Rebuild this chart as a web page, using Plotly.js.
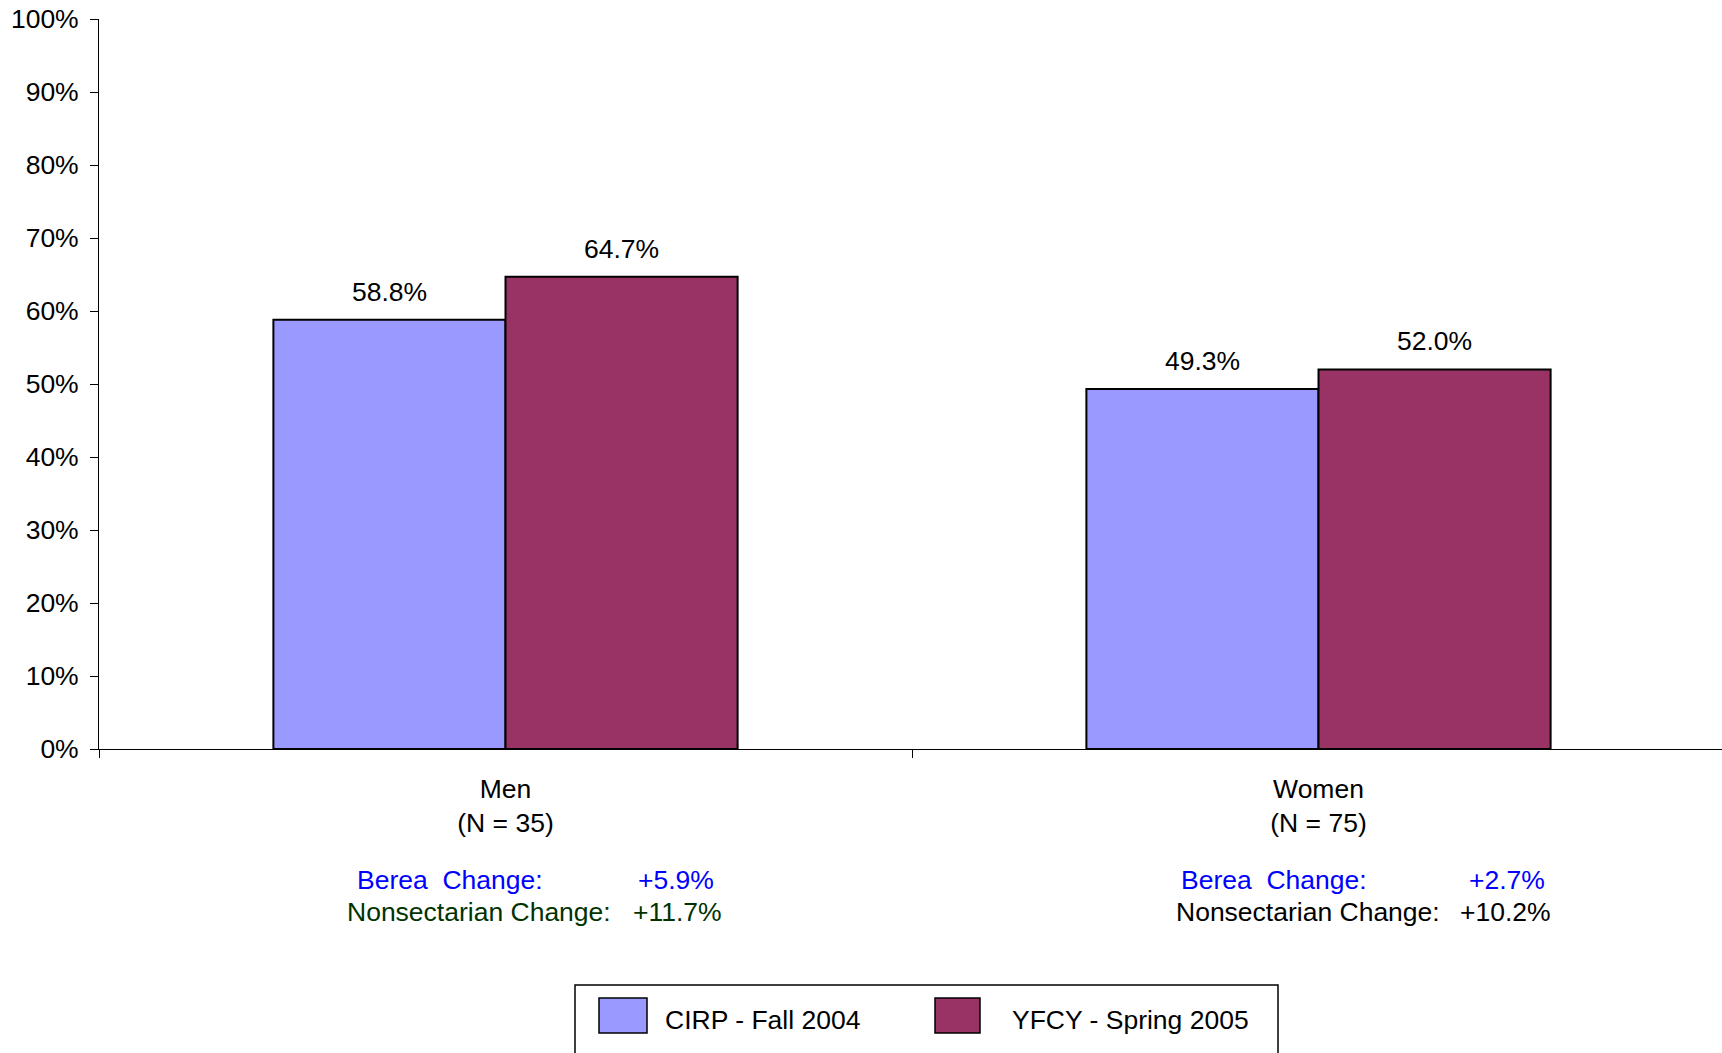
<!DOCTYPE html>
<html>
<head>
<meta charset="utf-8">
<script src="https://cdn.plot.ly/plotly-3.0.1.min.js"></script>
<style>html,body{margin:0;padding:0;background:#fff;}#chart{width:1722px;height:1053px;}</style>
</head>
<body>
<div id="chart"></div>
<script>
// ---- data ----
const categories = ['Men', 'Women'];
const sampleSizes = ['(N = 35)', '(N = 75)'];
const seriesNames = ['CIRP - Fall 2004', 'YFCY - Spring 2005'];
const cirpValues = [58.8, 49.3];
const yfcyValues = [64.7, 52.0];
const bereaChange = [5.9, 2.7];
const nonsectarianChange = [11.7, 10.2];

// ---- styling ----
const colors = ['#9999FF', '#993366'];
const FONT = '"Liberation Sans", Arial, Helvetica, sans-serif';
const FS = 26.5;

// pixel helpers for paper coords (plot area: x 99..1725, y 19..749)
const px = x => (x - 99) / 1623;
const py = y => (749 - y) / 730;

const catLabels = categories.map((c, i) => c + '<br>' + sampleSizes[i]);

const traces = [cirpValues, yfcyValues].map((vals, t) => ({
  type: 'bar',
  name: seriesNames[t],
  x: catLabels,
  y: vals,
  marker: { color: colors[t], line: { color: '#000000', width: 2 } },
  hoverinfo: 'skip',
  showlegend: false
}));

const annotations = [];
const barOffset = 0.1427;
[cirpValues, yfcyValues].forEach((vals, t) => {
  vals.forEach((v, i) => {
    annotations.push({
      xref: 'x', yref: 'y',
      x: i + (t === 0 ? -barOffset : barOffset),
      y: v, yanchor: 'middle', yshift: 28,
      text: v.toFixed(1) + '%',
      showarrow: false,
      font: { family: FONT, size: FS, color: '#000000' }
    });
  });
});

// change annotations
const changePos = [
  { labelX: 355, valueX: 716, nsLabelX: 345, nsValueX: 724, nsColor: '#003300' },
  { labelX: 1179, valueX: 1547, nsLabelX: 1174, nsValueX: 1553, nsColor: '#000000' }
];
const fmt = v => '+' + v.toFixed(1) + '%';
categories.forEach((c, i) => {
  const p = changePos[i];
  annotations.push({ xref: 'paper', yref: 'paper', x: px(p.labelX), y: py(880), xanchor: 'left', yanchor: 'middle',
    text: 'Berea&nbsp;&nbsp;Change:', showarrow: false, font: { family: FONT, size: FS, color: '#0000FF' } });
  annotations.push({ xref: 'paper', yref: 'paper', x: px(p.valueX), y: py(880), xanchor: 'right', yanchor: 'middle',
    text: fmt(bereaChange[i]), showarrow: false, font: { family: FONT, size: FS, color: '#0000FF' } });
  annotations.push({ xref: 'paper', yref: 'paper', x: px(p.nsLabelX), y: py(912), xanchor: 'left', yanchor: 'middle',
    text: 'Nonsectarian Change:', showarrow: false, font: { family: FONT, size: FS, color: p.nsColor } });
  annotations.push({ xref: 'paper', yref: 'paper', x: px(p.nsValueX), y: py(912), xanchor: 'right', yanchor: 'middle',
    text: fmt(nonsectarianChange[i]), showarrow: false, font: { family: FONT, size: FS, color: p.nsColor } });
});

// custom legend
const shapes = [
  { type: 'rect', xref: 'paper', yref: 'paper', x0: px(575), x1: px(1278), y0: py(985), y1: py(1070),
    line: { color: '#000000', width: 1.5 }, fillcolor: 'rgba(0,0,0,0)' }
];
const swatches = [
  { x0: 599, x1: 647, textX: 663 },
  { x0: 935, x1: 980, textX: 1010 }
];
swatches.forEach((s, t) => {
  shapes.push({ type: 'rect', xref: 'paper', yref: 'paper', x0: px(s.x0), x1: px(s.x1), y0: py(998), y1: py(1033),
    line: { color: '#000000', width: 1.5 }, fillcolor: colors[t] });
  annotations.push({ xref: 'paper', yref: 'paper', x: px(s.textX), y: py(1020), xanchor: 'left', yanchor: 'middle',
    text: seriesNames[t], showarrow: false, font: { family: FONT, size: FS, color: '#000000' } });
});

const layout = {
  width: 1722, height: 1053,
  margin: { l: 99, r: 0, t: 19, b: 304, pad: 0 },
  paper_bgcolor: '#ffffff', plot_bgcolor: '#ffffff',
  font: { family: FONT, size: FS, color: '#000000' },
  barmode: 'group',
  bargap: 0.429, bargroupgap: 0,
  xaxis: {
    type: 'category',
    range: [-0.5, 1.5 - 3 / 813],
    showline: true, linecolor: '#000000', linewidth: 1,
    showgrid: false, zeroline: false,
    ticks: 'outside', tickson: 'boundaries', ticklen: 8, tickcolor: '#000000', tickwidth: 1,
    tickfont: { family: FONT, size: FS, color: '#000000' },
    ticklabelstandoff: 16
  },
  yaxis: {
    range: [0, 100], dtick: 10, ticksuffix: '%',
    showline: true, linecolor: '#000000', linewidth: 1,
    showgrid: false, zeroline: false,
    ticks: 'outside', ticklen: 8, tickcolor: '#000000', tickwidth: 1,
    tickfont: { family: FONT, size: FS, color: '#000000' },
    ticklabelstandoff: 6
  },
  annotations: annotations,
  shapes: shapes,
  showlegend: false
};

Plotly.newPlot('chart', traces, layout, { displayModeBar: false, staticPlot: true });
</script>
</body>
</html>
